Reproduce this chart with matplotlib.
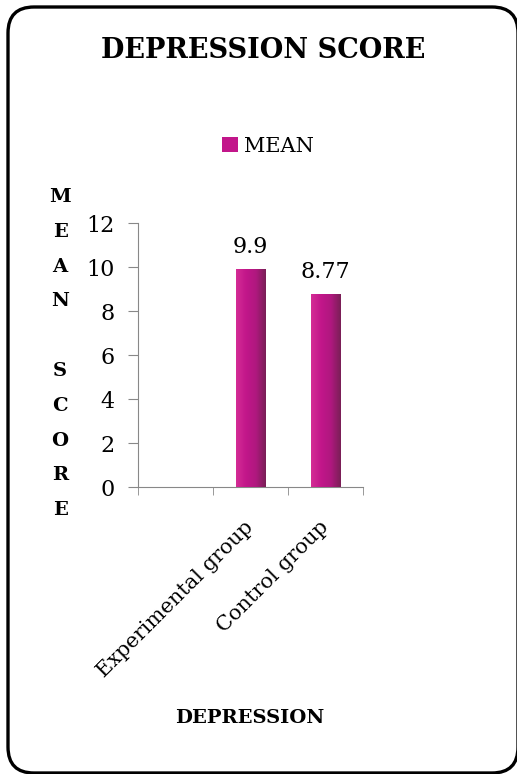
import numpy as np
import matplotlib
matplotlib.use("Agg")
from matplotlib import pyplot as plt
from matplotlib.patches import FancyBboxPatch
from matplotlib.transforms import IdentityTransform
from matplotlib.colors import LinearSegmentedColormap

# chart data
categories = ["", "Experimental group", "Control group"]
mean_values = [np.nan, 9.9, 8.77]
value_labels = ["", "9.9", "8.77"]
y_ticks = [0, 2, 4, 6, 8, 10, 12]
y_label_letters = ["M", "E", "A", "N", "", "S", "C", "O", "R", "E"]

W, H = 517, 774
SERIF = "DejaVu Serif"
plt.rcParams['font.family'] = SERIF

fig = plt.figure(figsize=(W / 100, H / 100), dpi=100)
ax = fig.add_axes([138 / W, 1 - 487 / H, 225 / W, 264 / H])

x = np.arange(len(categories))
bars = ax.bar(x, mean_values, width=0.4, color='#c2168a', label='MEAN', zorder=2)

# left-to-right shading on each bar
shade = LinearSegmentedColormap.from_list('shade', ['#d42c95', '#c2168a', '#b0187f', '#7a1f56'])
grad = np.linspace(0, 1, 64).reshape(1, -1)
for b in bars:
    if np.isnan(b.get_height()):
        continue
    im = ax.imshow(grad, cmap=shade, aspect='auto', zorder=3,
                   extent=[b.get_x(), b.get_x() + b.get_width(), 0, b.get_height()])
    im.set_clip_path(b)

ax.bar_label(bars, labels=value_labels, padding=8, fontsize=16, family=SERIF)

ax.set_xlim(-0.5, len(categories) - 0.5)
ax.set_ylim(0, 12)
ax.set_yticks(y_ticks)
ax.set_xticks(x)
ax.set_xticklabels(categories, rotation=45, ha='right', va='center',
                   rotation_mode='anchor', fontsize=15)
ax.set_xticks(np.arange(len(categories) + 1) - 0.5, minor=True)
ax.tick_params(axis='x', which='major', length=0, pad=27)
ax.tick_params(axis='x', which='minor', length=6, color='#888888', direction='out')
ax.tick_params(axis='y', length=7, color='#888888', labelsize=16, pad=10)
for side in ['top', 'right']:
    ax.spines[side].set_visible(False)
for side in ['left', 'bottom']:
    ax.spines[side].set_color('#888888')

# title, legend, axis labels
fig.text(263 / W, 1 - 50 / H, "DEPRESSION SCORE", ha='center', va='center',
         fontsize=19.5, fontweight='bold')
fig.legend(loc='center', bbox_to_anchor=(268 / W, 1 - 146 / H), frameon=False,
           fontsize=15, handlelength=0.75, handleheight=0.75, handletextpad=0.3)

top, step = 197, 34.8
for i, letter in enumerate(y_label_letters):
    fig.text(60 / W, 1 - (top + i * step) / H, letter, ha='center', va='center',
             fontsize=14, fontweight='bold')

fig.text(250 / W, 1 - 718 / H, "DEPRESSION", ha='center', va='center',
         fontsize=14, fontweight='bold')

# rounded frame around the chart
frame = FancyBboxPatch((8, 1), 510, 766, boxstyle="round,pad=0,rounding_size=26",
                       transform=IdentityTransform(), fill=False, edgecolor='black',
                       linewidth=2.4)
fig.patches.append(frame)

fig.savefig("out.png", dpi=100)
